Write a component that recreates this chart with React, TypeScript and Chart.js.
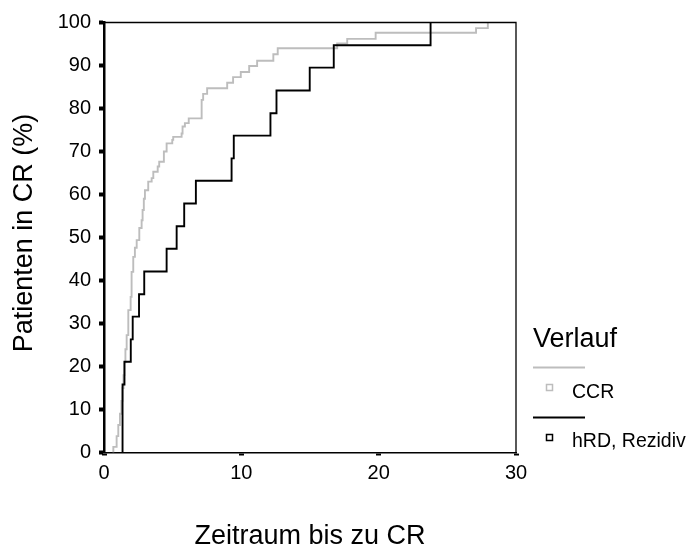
import React, { useEffect, useRef } from 'react';
import { Chart, registerables } from 'chart.js';

Chart.register(...registerables);

const FONT = '"Liberation Sans", Arial, Helvetica, sans-serif';

// ---- data ----
const xTicks = [0, 10, 20, 30];
const yTicks = [0, 10, 20, 30, 40, 50, 60, 70, 80, 90, 100];

const seriesNames = ['CCR', 'hRD, Rezidiv'];
const legendTitle = 'Verlauf';
const xTitle = 'Zeitraum bis zu CR';
const yTitle = 'Patienten in CR (%)';

const ccrTime = [
  0.68, 0.68, 0.92, 1.04, 1.16, 1.27, 1.35, 1.42, 1.49, 1.56, 1.65, 1.77, 1.94, 2.01,
  2.13, 2.25, 2.38, 2.57, 2.74, 2.81, 2.9, 2.98, 3.22, 3.47, 3.59, 3.91, 4.02, 4.36,
  4.56, 4.97, 5.04, 5.65, 5.72, 5.89, 6.17, 7.11, 7.22, 7.51, 8.97, 9.4, 9.96, 10.57,
  11.15, 12.33, 12.65, 16.98, 17.71, 19.78, 27.09, 27.95,
];
const ccrPct = [
  0, 1.3, 3.8, 6.4, 9, 12, 15, 18, 21, 24, 27.3, 33.1, 36.2, 42,
  45.5, 47.6, 49.4, 52.2, 54, 56.4, 59, 61, 63, 63.8, 65.3, 66.5, 67.6, 70,
  71.9, 72.7, 73.4, 74.2, 75.8, 76.6, 77.7, 82, 83.4, 84.7, 86, 87.3, 88.5, 89.9,
  91.1, 92.6, 94, 95.1, 96.2, 97.6, 98.7, 100,
];

const hrdTime = [
  1.35, 1.35, 1.49, 1.95, 2.09, 2.55, 2.93, 4.56, 5.29, 5.84, 6.69, 9.29, 9.45,
  12.12, 12.56, 14.98, 16.73, 23.78,
];
const hrdPct = [
  0, 15.8, 21.1, 26.3, 31.6, 36.8, 42.1, 47.4, 52.6, 57.9, 63.2, 68.4, 73.7,
  78.9, 84.2, 89.5, 94.7, 100,
];

const CCR_COLOR = '#bdbdbd';
const HRD_COLOR = '#000000';

const toPoints = (xs: number[], ys: number[]) => xs.map((x, i) => ({ x, y: ys[i] }));

const decorPlugin = {
  id: 'decor',
  afterDatasetsDraw(chart: any) {
    const { ctx, chartArea } = chart;
    ctx.save();
    ctx.strokeStyle = '#000';
    ctx.lineWidth = 1.3;
    ctx.beginPath();
    ctx.moveTo(chartArea.left, chartArea.top);
    ctx.lineTo(chartArea.right, chartArea.top);
    ctx.lineTo(chartArea.right, chartArea.bottom);
    ctx.stroke();
    ctx.restore();
  },
  afterDraw(chart: any) {
    const { ctx, chartArea } = chart;
    ctx.save();
    ctx.fillStyle = '#000';
    // x title
    ctx.font = `27px ${FONT}`;
    ctx.textAlign = 'center';
    ctx.textBaseline = 'alphabetic';
    ctx.fillText(xTitle, (chartArea.left + chartArea.right) / 2, 544);
    // y title
    ctx.save();
    ctx.translate(32, 233);
    ctx.rotate(-Math.PI / 2);
    ctx.fillText(yTitle, 0, 0);
    ctx.restore();

    // legend
    ctx.textAlign = 'left';
    ctx.font = `27px ${FONT}`;
    ctx.fillText(legendTitle, 533, 347);

    const items = [
      { name: seriesNames[0], color: CCR_COLOR, lineY: 367.5, boxY: 384.5, textY: 397.5 },
      { name: seriesNames[1], color: HRD_COLOR, lineY: 417.5, boxY: 434.5, textY: 447 },
    ];
    items.forEach((it) => {
      ctx.strokeStyle = it.color;
      ctx.lineWidth = 2;
      ctx.beginPath();
      ctx.moveTo(533, it.lineY);
      ctx.lineTo(585, it.lineY);
      ctx.stroke();
      ctx.lineWidth = 1.5;
      ctx.strokeRect(546.5, it.boxY, 6, 6);
      ctx.fillStyle = '#000';
      ctx.font = `19.5px ${FONT}`;
      ctx.fillText(it.name, 572, it.textY);
    });
    ctx.restore();
  },
};

export default function App() {
  const canvasRef = useRef<HTMLCanvasElement | null>(null);

  useEffect(() => {
    document.body.style.margin = '0';
    const canvas = canvasRef.current;
    if (!canvas) return;
    const chart = new Chart(canvas, {
      type: 'scatter',
      data: {
        datasets: [
          {
            label: seriesNames[1],
            data: toPoints(hrdTime, hrdPct),
            borderColor: HRD_COLOR,
            borderWidth: 1.9,
            showLine: true,
            stepped: 'before',
            pointRadius: 0,
            borderJoinStyle: 'miter',
            borderCapStyle: 'butt',
            order: 0,
          },
          {
            label: seriesNames[0],
            data: toPoints(ccrTime, ccrPct),
            borderColor: CCR_COLOR,
            borderWidth: 1.9,
            showLine: true,
            stepped: 'before',
            pointRadius: 0,
            borderJoinStyle: 'miter',
            borderCapStyle: 'butt',
            order: 1,
          },
        ],
      },
      options: {
        responsive: false,
        animation: false,
        devicePixelRatio: 1,
        layout: { padding: { left: 0, top: 22.5, right: 176, bottom: 0 } },
        plugins: {
          legend: { display: false },
          tooltip: { enabled: false },
        },
        scales: {
          x: {
            type: 'linear',
            min: 0,
            max: 30,
            afterBuildTicks: (scale: any) => {
              scale.ticks = xTicks.map((v) => ({ value: v }));
            },
            afterFit: (scale: any) => {
              scale.height = 93.5;
            },
            grid: {
              display: true,
              drawOnChartArea: false,
              drawTicks: true,
              tickLength: 3,
              tickWidth: 5,
              tickColor: '#000',
            },
            border: { display: true, color: '#000', width: 1.6 },
            ticks: {
              color: '#000',
              font: { family: FONT, size: 20 },
              padding: 6,
              maxRotation: 0,
            },
          },
          y: {
            type: 'linear',
            min: 0,
            max: 100,
            afterBuildTicks: (scale: any) => {
              scale.ticks = yTicks.map((v) => ({ value: v }));
            },
            afterFit: (scale: any) => {
              scale.width = 104;
            },
            grid: {
              display: true,
              drawOnChartArea: false,
              drawTicks: true,
              tickLength: 5,
              tickWidth: 4,
              tickColor: '#000',
            },
            border: { display: true, color: '#000', width: 2.5 },
            ticks: {
              color: '#000',
              font: { family: FONT, size: 20 },
              padding: 8,
            },
          },
        },
      },
      plugins: [decorPlugin],
    } as any);
    return () => chart.destroy();
  }, []);

  return (
    <div style={{ width: 692, height: 546, position: 'relative' }}>
      <canvas ref={canvasRef} width={692} height={546} style={{ display: 'block' }} />
    </div>
  );
}
